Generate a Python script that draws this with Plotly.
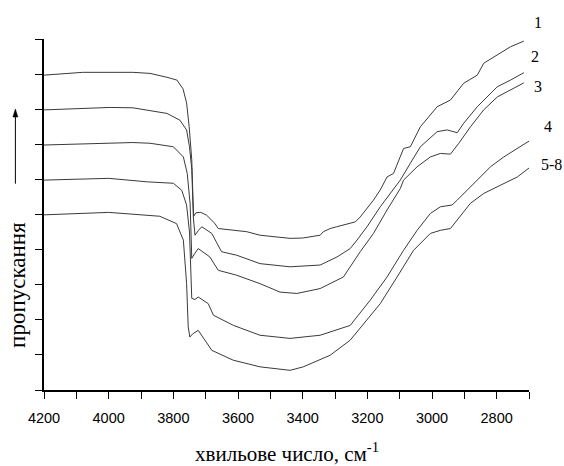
import plotly.graph_objects as go

# wavenumber (cm^-1) and transmission (arbitrary units) for each spectrum
c1_x = [4200, 4080, 3925, 3872, 3820, 3789, 3770, 3759, 3751, 3743, 3739, 3737, 3730, 3715, 3697, 3672, 3661,
        3615, 3573, 3532, 3470, 3439, 3400, 3346, 3336, 3315, 3295, 3253, 3237, 3222, 3181, 3160, 3139,
        3119, 3098, 3088, 3067, 3036, 2984, 2943, 2902, 2860, 2840, 2798, 2757, 2716]
c1_y = [8.97, 9.05, 9.05, 9.02, 8.91, 8.83, 8.58, 8.18, 7.50, 6.56, 5.41, 4.95, 5.05, 5.06, 4.98, 4.75, 4.60,
        4.55, 4.51, 4.41, 4.34, 4.32, 4.33, 4.41, 4.51, 4.60, 4.65, 4.74, 4.79, 4.93, 5.41, 5.70, 6.07,
        6.17, 6.64, 6.88, 6.93, 7.50, 8.07, 8.26, 8.74, 8.97, 9.31, 9.54, 9.78, 9.94]

c2_x = [4200, 4080, 3996, 3925, 3872, 3820, 3780, 3759, 3750, 3743, 3738, 3733, 3722, 3712, 3681, 3651,
        3604, 3532, 3439, 3346, 3294, 3253, 3232, 3201, 3160, 3119, 3098, 3067, 3036, 2984, 2953,
        2922, 2902, 2860, 2829, 2798, 2757, 2716]
c2_y = [7.98, 8.02, 8.05, 8.04, 7.96, 7.88, 7.69, 7.41, 6.93, 6.29, 4.90, 4.41, 4.55, 4.65, 4.46, 3.94,
        3.84, 3.60, 3.51, 3.56, 3.79, 4.03, 4.27, 4.65, 5.22, 5.74, 5.98, 6.46, 6.93, 7.36, 7.41,
        7.33, 7.60, 8.07, 8.35, 8.64, 8.83, 9.04]

c3_x = [4200, 4000, 3925, 3872, 3800, 3769, 3757, 3748, 3743, 3733, 3723, 3687, 3661, 3604, 3532, 3470,
        3418, 3346, 3294, 3274, 3222, 3181, 3139, 3098, 3088, 3046, 3005, 2974, 2943, 2917, 2881,
        2840, 2798, 2757, 2716]
c3_y = [6.98, 7.03, 7.05, 7.03, 6.93, 6.64, 6.17, 5.30, 3.75, 3.90, 4.03, 3.79, 3.41, 3.27, 3.03, 2.79,
        2.75, 2.89, 3.13, 3.22, 3.94, 4.46, 5.13, 5.74, 5.98, 6.36, 6.64, 6.74, 6.72, 7.03, 7.50,
        7.98, 8.35, 8.55, 8.75]

c4_x = [4200, 4000, 3880, 3800, 3774, 3759, 3750, 3743, 3733, 3723, 3692, 3676, 3614, 3573, 3532, 3439,
        3346, 3253, 3191, 3139, 3088, 3046, 3005, 2974, 2938, 2922, 2881, 2860, 2819, 2778, 2736, 2695]
c4_y = [5.98, 6.03, 5.93, 5.89, 5.69, 5.27, 4.50, 2.61, 2.58, 2.65, 2.46, 2.13, 1.84, 1.70, 1.56, 1.47,
        1.56, 1.84, 2.56, 3.22, 3.98, 4.55, 5.03, 5.22, 5.27, 5.41, 5.79, 5.98, 6.36, 6.64, 6.88, 7.12]

c5_x = [4200, 4000, 3842, 3790, 3769, 3759, 3754, 3749, 3740, 3723, 3681, 3615, 3532, 3439, 3398, 3315,
        3253, 3212, 3160, 3108, 3057, 3005, 2974, 2943, 2922, 2881, 2840, 2778, 2736, 2695]
c5_y = [4.99, 5.06, 4.95, 4.74, 4.27, 3.04, 1.80, 1.51, 1.60, 1.70, 1.13, 0.85, 0.66, 0.56, 0.66, 0.99,
        1.42, 1.89, 2.46, 3.22, 3.98, 4.46, 4.55, 4.60, 4.84, 5.32, 5.60, 5.89, 6.07, 6.36]

series = [(c1_x, c1_y), (c2_x, c2_y), (c3_x, c3_y), (c4_x, c4_y), (c5_x, c5_y)]
curve_labels = ["1", "2", "3", "4", "5-8"]
x_tick_vals = [4200, 4000, 3800, 3600, 3400, 3200, 3000, 2800]
x_tick_text = ["4200", "4000", "3800", "3600", "3400", "3200", "3000", "2800"]
x_title = "хвильове число, см<sup>-1</sup>"
y_title = "пропускання"

fig = go.Figure()
for (xs, ys), name in zip(series, curve_labels):
    fig.add_trace(go.Scatter(x=xs, y=ys, mode="lines", name=name,
                             line=dict(color="#3a3a3a", width=1), showlegend=False))

serif = "Liberation Serif, Times New Roman, serif"
label_pos = [(1.0192, 1.0465), (1.0116, 0.9495), (1.0186, 0.866), (1.0392, 0.750), (1.046, 0.6427)]
for (px, py), t in zip(label_pos, curve_labels):
    fig.add_annotation(x=px, y=py, xref="paper", yref="paper", text=t, showarrow=False,
                       font=dict(family=serif, size=16, color="black"),
                       xanchor="center", yanchor="middle")

fig.add_annotation(x=0.5, y=-0.177, xref="paper", yref="paper", text=x_title, showarrow=False,
                   font=dict(family=serif, size=21, color="black"), xanchor="center", yanchor="middle")
fig.add_annotation(x=-0.0543, y=0.2985, xref="paper", yref="paper", text=y_title, showarrow=False,
                   textangle=-90, font=dict(family=serif, size=23, color="black"),
                   xanchor="center", yanchor="middle")

# arrow pointing up (increasing transmission): shaft + head
ax_x = -0.0590
fig.add_shape(type="line", xref="paper", yref="paper", x0=ax_x, x1=ax_x, y0=0.5878, y1=0.785,
              line=dict(color="black", width=1))
fig.add_shape(type="path", xref="paper", yref="paper",
              path=f"M {ax_x - 0.0052} 0.7776 L {ax_x} 0.8004 L {ax_x + 0.0052} 0.7776 Z",
              fillcolor="black", line=dict(color="black", width=0.5))

fig.update_layout(
    width=564, height=466,
    margin=dict(l=44, r=35, t=39, b=76),
    paper_bgcolor="white", plot_bgcolor="white",
    xaxis=dict(range=[4200, 2700], showgrid=False, zeroline=False,
               showline=True, linecolor="black", linewidth=1.5,
               ticks="outside", ticklen=7, tickwidth=1.2, tickcolor="black",
               tickvals=x_tick_vals, ticktext=x_tick_text, ticklabelstandoff=7,
               minor=dict(ticks="outside", ticklen=7, tickwidth=1.2, tickcolor="black", dtick=100, showgrid=False),
               tickfont=dict(family="Liberation Sans, Arial, sans-serif", size=14.5, color="black")),
    yaxis=dict(range=[0, 10], showgrid=False, zeroline=False,
               showline=True, linecolor="black", linewidth=1.5,
               ticks="outside", ticklen=7, tickwidth=1.2, tickcolor="black",
               dtick=1, tick0=0, showticklabels=False),
)

fig.write_html("out.html", config={"displayModeBar": False},
               post_script="document.body.style.margin='0';")
